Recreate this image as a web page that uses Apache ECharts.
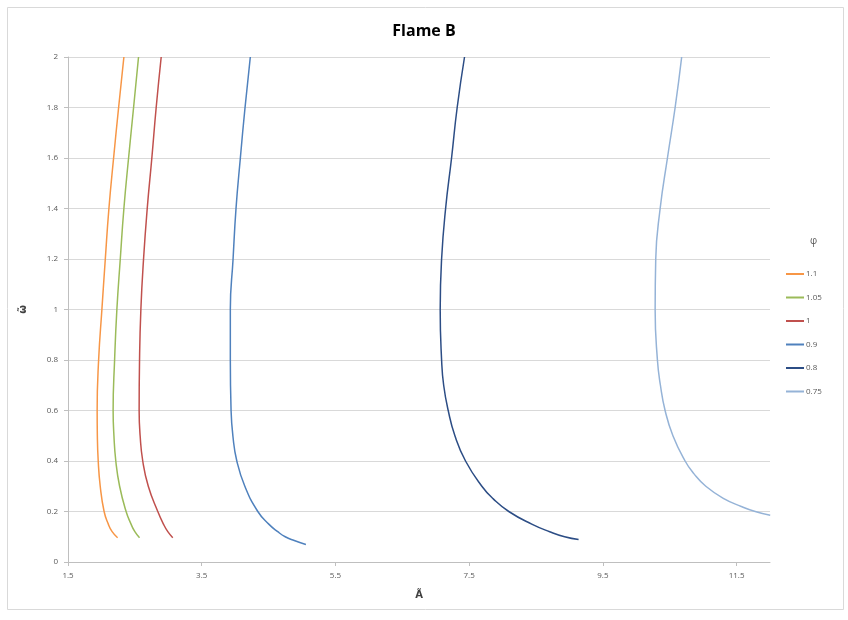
<!DOCTYPE html>
<html>
<head>
<meta charset="utf-8">
<script src="https://cdn.jsdelivr.net/npm/echarts@6/dist/echarts.min.js"></script>
<style>html,body{margin:0;padding:0;background:#fff}#c{width:848px;height:620px}</style>
</head>
<body>
<div id="c"></div>
<script>
// Legend names (phi)
const seriesNames = ['1.1', '1.05', '1', '0.9', '0.8', '0.75'];
const seriesColors = ['#F79646', '#9BBB59', '#C0504D', '#4F81BD', '#2C4D85', '#95B3D7'];

// Curves: x (A~) values and y (omega~) values
const x_11  = [2.336, 2.257, 2.182, 2.112, 2.058, 2.007, 1.958, 1.936, 1.939, 1.952, 1.982, 2.040, 2.103, 2.160, 2.242];
const y_11  = [2.0, 1.8, 1.6, 1.4, 1.2, 1.0, 0.8, 0.6, 0.5, 0.4, 0.3, 0.2, 0.15, 0.12, 0.096];
const x_105 = [2.555, 2.481, 2.406, 2.336, 2.282, 2.231, 2.197, 2.175, 2.187, 2.215, 2.272, 2.369, 2.443, 2.500, 2.570];
const y_105 = [2.0, 1.8, 1.6, 1.4, 1.2, 1.0, 0.8, 0.6, 0.5, 0.4, 0.3, 0.2, 0.15, 0.12, 0.096];
const x_1   = [2.894, 2.819, 2.754, 2.685, 2.630, 2.590, 2.570, 2.564, 2.579, 2.618, 2.701, 2.843, 2.928, 2.993, 3.067];
const y_1   = [2.0, 1.8, 1.6, 1.4, 1.2, 1.0, 0.8, 0.6, 0.5, 0.4, 0.3, 0.2, 0.15, 0.12, 0.096];
const x_09  = [4.227, 4.148, 4.078, 4.013, 3.969, 3.928, 3.928, 3.939, 3.966, 4.025, 4.145, 4.339, 4.503, 4.637, 4.749, 4.884, 5.058];
const y_09  = [2.0, 1.8, 1.6, 1.4, 1.2, 1.0, 0.8, 0.6, 0.5, 0.4, 0.3, 0.2, 0.15, 0.12, 0.1, 0.085, 0.069];
const x_08  = [7.431, 7.321, 7.237, 7.148, 7.088, 7.067, 7.088, 7.119, 7.187, 7.287, 7.446, 7.690, 7.861, 8.093, 8.436, 8.705, 8.928, 9.137];
const y_08  = [2.0, 1.8, 1.6, 1.4, 1.2, 1.0, 0.8, 0.7, 0.6, 0.5, 0.4, 0.3, 0.25, 0.2, 0.15, 0.12, 0.1, 0.089];
const x_075 = [10.679, 10.581, 10.466, 10.357, 10.291, 10.282, 10.316, 10.361, 10.431, 10.548, 10.730, 10.861, 11.040, 11.316, 11.570, 11.779, 12.003];
const y_075 = [2.0, 1.8, 1.6, 1.4, 1.2, 1.0, 0.8, 0.7, 0.6, 0.5, 0.4, 0.35, 0.3, 0.25, 0.22, 0.2, 0.185];

const xTicks = ['1.5', '3.5', '5.5', '7.5', '9.5', '11.5'];

const curves = [[x_11, y_11], [x_105, y_105], [x_1, y_1], [x_09, y_09], [x_08, y_08], [x_075, y_075]];

const font = 'Open Sans, Liberation Sans, sans-serif';
const chart = echarts.init(document.getElementById('c'));
chart.setOption({
  animation: false,
  backgroundColor: '#fff',
  title: {
    text: 'Flame B', left: 'center', top: 18,
    textStyle: { fontFamily: font, fontSize: 16, fontWeight: 'bold', color: '#000' }
  },
  graphic: [
    { type: 'rect', shape: { x: 7.5, y: 7.5, width: 836, height: 602 },
      style: { fill: 'none', stroke: '#d9d9d9', lineWidth: 1 } },
    { type: 'text', left: 810, top: 236,
      style: { text: 'φ', fontFamily: font, fontSize: 10, fill: '#595959' } }
  ],
  legend: {
    orient: 'vertical', left: 781, top: 265, itemGap: 15.5,
    itemWidth: 18, itemHeight: 2, icon: 'rect',
    textStyle: { fontFamily: font, fontSize: 8, color: '#595959', padding: [0, 0, 0, -3] },
    data: seriesNames
  },
  grid: { left: 68, right: 78, top: 57, bottom: 58, containLabel: false },
  xAxis: {
    type: 'value', min: 1.5, max: 12, interval: 2,
    name: 'Ã', nameLocation: 'middle', nameGap: 28,
    nameTextStyle: { fontFamily: 'DejaVu Sans, sans-serif', fontSize: 10, fontWeight: 'bold', color: '#404040' },
    axisLine: { show: true, lineStyle: { color: '#bfbfbf' } },
    axisTick: { show: true, length: 4, lineStyle: { color: '#bfbfbf' } },
    splitLine: { show: false },
    axisLabel: {
      fontFamily: font, fontSize: 8, color: '#595959', margin: 10, showMaxLabel: false,
      formatter: v => { const s = String(Math.round(v * 10) / 10); return xTicks.indexOf(s) >= 0 ? s : ''; }
    }
  },
  yAxis: {
    type: 'value', min: 0, max: 2, interval: 0.2,
    name: 'ω̃', nameLocation: 'middle', nameGap: 40, nameRotate: 90,
    nameTextStyle: { fontFamily: 'DejaVu Sans, sans-serif', fontSize: 10, fontWeight: 'bold', color: '#404040' },
    axisLine: { show: true, lineStyle: { color: '#bfbfbf' } },
    axisTick: { show: true, length: 4, lineStyle: { color: '#bfbfbf' } },
    splitLine: { show: true, lineStyle: { color: '#d9d9d9', width: 1 } },
    axisLabel: {
      fontFamily: font, fontSize: 8, color: '#595959', margin: 10,
      formatter: v => String(Math.round(v * 10) / 10)
    }
  },
  series: curves.map((c, i) => ({
    name: seriesNames[i], type: 'line', smooth: 0.5, showSymbol: false, clip: true,
    color: seriesColors[i],
    lineStyle: { width: 1.5, color: seriesColors[i] },
    data: c[0].map((xv, j) => [xv, c[1][j]])
  }))
});
</script>
</body>
</html>
